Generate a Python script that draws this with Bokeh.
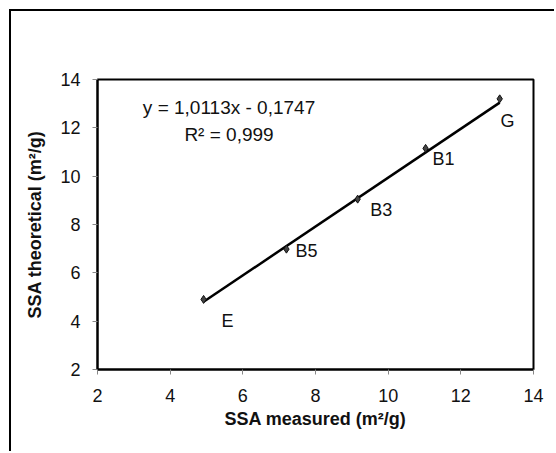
from bokeh.plotting import figure
from bokeh.embed import file_html
from bokeh.resources import INLINE
from bokeh.models import ColumnDataSource, FixedTicker, Range1d
from bokeh.core.properties import value

# Data
samples = ["E", "B5", "B3", "B1", "G"]
ssa_measured = [4.92, 7.2, 9.16, 11.03, 13.07]
ssa_theoretical = [4.9, 6.98, 9.05, 11.15, 13.2]
label_x = [5.41, 7.45, 9.51, 11.22, 13.09]
label_y = [4.0, 6.9, 8.6, 10.72, 12.3]
slope = 1.0113
intercept = -0.1747
eq_text = "y = 1,0113x - 0,1747"
r2_text = "R\u00b2 = 0,999"
eq_pos = [5.62, 12.84]
r2_pos = [5.62, 11.72]
x_ticks = [2, 4, 6, 8, 10, 12, 14]
y_ticks = [2, 4, 6, 8, 10, 12, 14]

FONT = "Liberation Sans"

p = figure(width=545, height=442, output_backend="svg", toolbar_location=None,
           x_range=Range1d(2, 14), y_range=Range1d(2, 14),
           min_border_left=86, min_border_right=23, min_border_top=68, min_border_bottom=84)
p.styles = {"border-top": "2px solid black", "border-left": "2px solid black",
            "margin-left": "9px", "margin-top": "9px"}

p.background_fill_color = "white"
p.border_fill_color = "white"
p.outline_line_color = "black"
p.outline_line_width = 2
p.xgrid.visible = False
p.ygrid.visible = False

for ax in (p.xaxis, p.yaxis):
    ax.axis_line_color = "black"
    ax.axis_line_width = 2
    ax.major_tick_out = 5
    ax.major_tick_in = 0
    ax.major_tick_line_color = "#888888"
    ax.minor_tick_line_color = None
    ax.major_label_text_font = FONT
    ax.major_label_text_font_size = "18px"
    ax.major_label_text_color = "#111111"
    ax.axis_label_text_font = FONT
    ax.axis_label_text_font_size = "18px"
    ax.axis_label_text_font_style = "bold"
    ax.axis_label_text_color = "#111111"

p.xaxis.ticker = FixedTicker(ticks=x_ticks)
p.yaxis.ticker = FixedTicker(ticks=y_ticks)
p.xaxis.axis_label = "SSA measured (m\u00b2/g)"
p.yaxis.axis_label = "SSA theoretical (m\u00b2/g)"
p.xaxis.major_label_standoff = 14
p.yaxis.major_label_standoff = 12
p.xaxis.axis_label_standoff = 4
p.yaxis.axis_label_standoff = 12

# trend line
x0, x1 = min(ssa_measured), max(ssa_measured)
p.line([x0, x1], [slope * x0 + intercept, slope * x1 + intercept], line_color="black", line_width=2.5)

src = ColumnDataSource(dict(x=ssa_measured, y=ssa_theoretical, lx=label_x, ly=label_y, name=samples))
p.scatter("x", "y", source=src, marker="diamond", size=8, fill_color="#444444", line_color="#111111")
p.text("lx", "ly", text="name", source=src, text_font=value(FONT), text_font_size="18px",
       text_baseline="middle", text_align="left", text_color="#111111")

p.text([eq_pos[0]], [eq_pos[1]], text=[eq_text], text_font=value(FONT), text_font_size="19px",
       text_baseline="middle", text_align="center", text_color="#111111")
p.text([r2_pos[0]], [r2_pos[1]], text=[r2_text], text_font=value(FONT), text_font_size="19px",
       text_baseline="middle", text_align="center", text_color="#111111")

open("out.html", "w").write(file_html(p, INLINE))
